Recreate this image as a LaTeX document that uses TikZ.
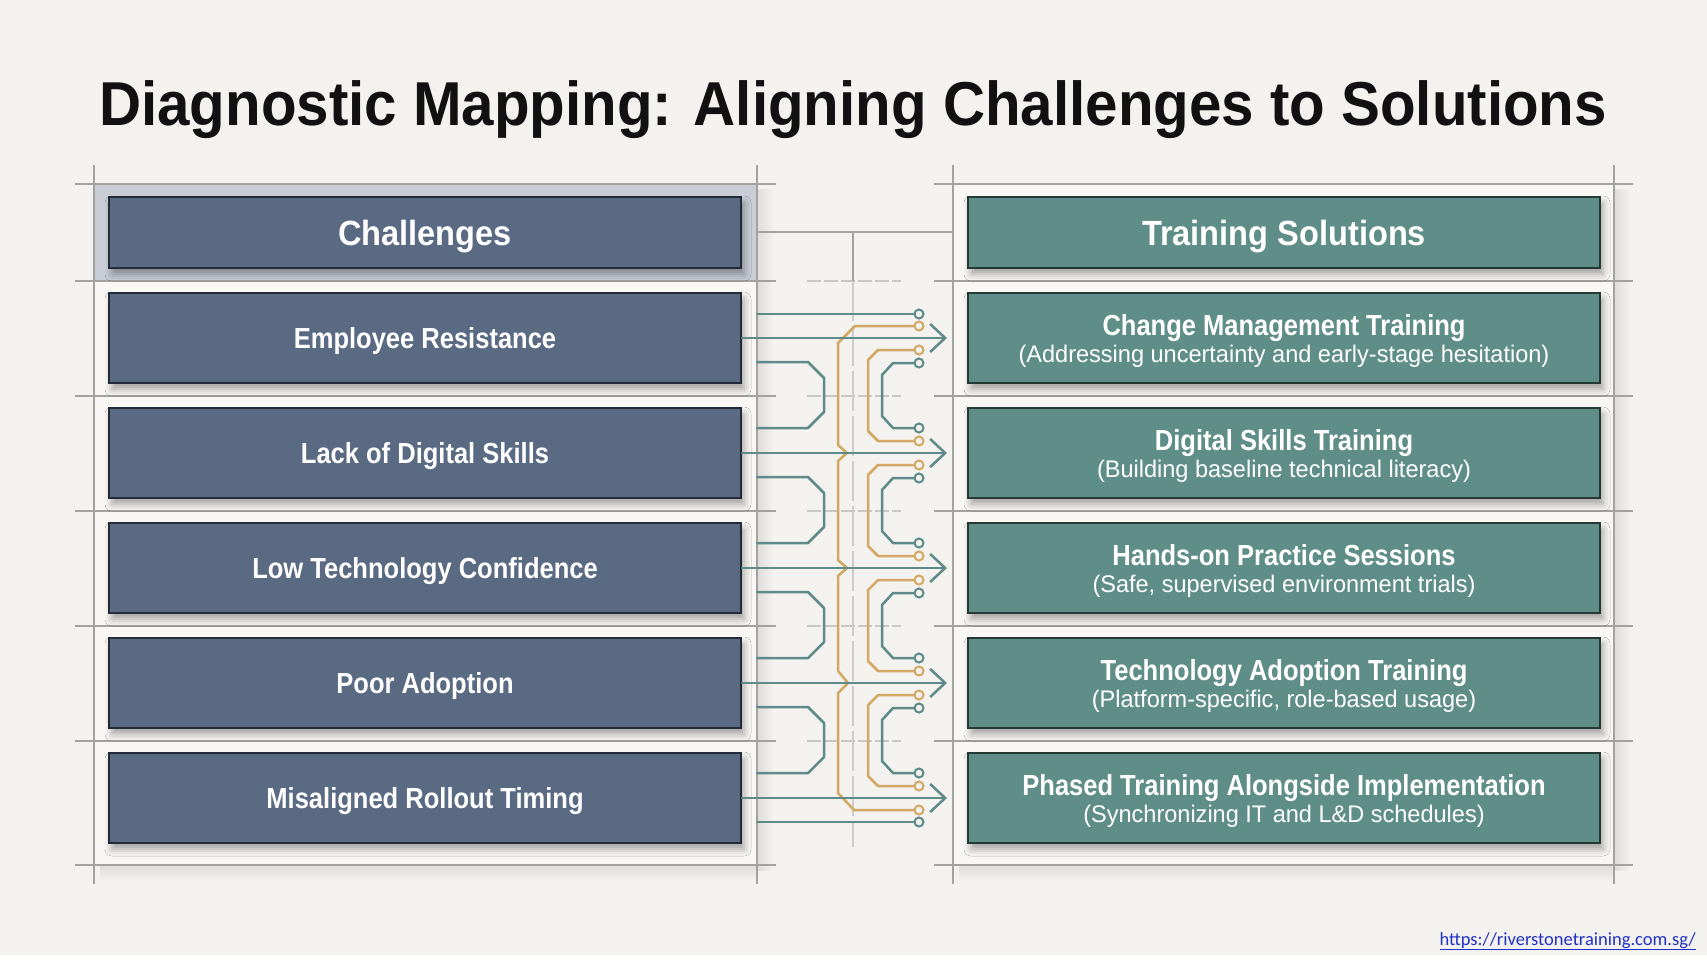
\documentclass[tikz,border=0pt]{standalone}
\usepackage{fontspec}
\setmainfont{Liberation Sans}
\newfontfamily\urlfont{Carlito}
\usetikzlibrary{arrows.meta,shadows.blur,calc}
\definecolor{bg}{HTML}{F3F2EE}
\definecolor{panelc}{HTML}{F8F7F4}
\definecolor{slate}{HTML}{5A6A83}
\definecolor{slateedge}{HTML}{232B38}
\definecolor{tealbox}{HTML}{5F8E89}
\definecolor{tealedge}{HTML}{263836}
\definecolor{trace}{HTML}{5E8A88}
\definecolor{gold}{HTML}{D3A864}
\definecolor{gridc}{HTML}{A3A29E}
\definecolor{hdrframe}{HTML}{C8CDD6}
\definecolor{urlblue}{HTML}{2030C8}
\definecolor{titlec}{HTML}{111111}
\colorlet{shadowc}{black!9!bg}
\newcommand{\sq}[2]{\scalebox{#1}[1]{#2}}
\begin{document}
\begin{tikzpicture}[x=1pt,y=-1pt,
  lbox/.style={draw=slateedge, fill=slate, line width=2pt, minimum width=632pt, minimum height=90pt, inner sep=0pt,
    blur shadow={shadow xshift=3pt,shadow yshift=-6pt,shadow blur radius=7pt,shadow opacity=35}},
  rbox/.style={lbox, draw=tealedge, fill=tealbox},
  hdrbox/.style={minimum height=71pt},
  txt/.style={text=white, anchor=base, inner sep=0pt},
  gridl/.style={draw=gridc, line width=1.5pt},
  tr/.style={draw=trace, line width=2.5pt, line join=round, line cap=round},
  go/.style={draw=gold, line width=2.5pt, line join=round, line cap=round},
  tdot/.style={circle, draw=trace, line width=2pt, fill=bg, minimum size=9pt, inner sep=0pt},
  gdot/.style={circle, draw=gold, line width=2pt, fill=bg, minimum size=9pt, inner sep=0pt},
  rowtitle/.style={txt, font=\fontsize{29}{29}\selectfont\bfseries},
  rowsub/.style={txt, font=\fontsize{24}{24}\selectfont},
  hdrtext/.style={txt, font=\fontsize{35}{35}\selectfont\bfseries},
]
\useasboundingbox (0,0) rectangle (1707,960);
\fill[bg] (0,0) rectangle (1707,960);
\fill[white] (0,955) rectangle (1707,960);

% title
\node[anchor=base, inner sep=0pt, text=titlec, font=\fontsize{62}{62}\selectfont\bfseries] (title) at (853,126)
  {\sq{0.94}{Diagnostic Mapping: Aligning Challenges to Solutions}};

% column panels with soft edge shadows
\foreach \xa/\xb in {94/757, 953/1614} {
  \shade[left color=shadowc, right color=bg] (\xb,190) rectangle (\xb+16,870);
  \shade[top color=shadowc, bottom color=bg] (\xa+6,865) rectangle (\xb,881);
  \fill[panelc] (\xa,184) rectangle (\xb,865);
}
\fill[hdrframe] (94,184) rectangle (757,281);

% grid
\foreach \x in {94,757,953,1614} \draw[gridl] (\x,165) -- (\x,884);
\foreach \y in {184,281,396,511,626,741,865} {
  \draw[gridl] (75,\y) -- (776,\y);
  \draw[gridl] (934,\y) -- (1633,\y);
}
\foreach \y in {281,396,511,626,741}
  \draw[draw=gridc!60, line width=1.2pt, dash pattern=on 14pt off 3pt] (807,\y) -- (901,\y);
\draw[gridl] (757,232) -- (953,232);
\draw[gridl] (853,232) -- (853,281);
\draw[draw=gridc!55, line width=1.3pt, dash pattern=on 40pt off 5pt] (853,281) -- (853,847);

% headers
\node[lbox, hdrbox] (chh) at (425,232.5) {};
\node[rbox, hdrbox] (shh) at (1284,232.5) {};
\node[hdrtext] (chht) at (425,245.5) {\sq{0.93}{Challenges}};
\node[hdrtext] (shht) at (1284,245.5) {\sq{0.93}{Training Solutions}};

% rows
\foreach \i/\y/\ct/\st/\ss in {
  1/338/{Employee Resistance}/{Change Management Training}/{(Addressing uncertainty and early-stage hesitation)},
  2/453/{Lack of Digital Skills}/{Digital Skills Training}/{(Building baseline technical literacy)},
  3/568/{Low Technology Confidence}/{Hands-on Practice Sessions}/{(Safe, supervised environment trials)},
  4/683/{Poor Adoption}/{Technology Adoption Training}/{(Platform-specific, role-based usage)},
  5/798/{Misaligned Rollout Timing}/{Phased Training Alongside Implementation}/{(Synchronizing IT and L\&D schedules)}} {
  \node[lbox] (c\i) at (425,\y) {};
  \node[rbox] (s\i) at (1284,\y) {};
  \node[rowtitle] (ct\i) at (425,\y+10.5) {\sq{0.88}{\ct}};
  \node[rowtitle] (st\i) at (1284,\y-3) {\sq{0.88}{\st}};
  \node[rowsub] (ss\i) at (1284,\y+24.5) {\sq{0.98}{\ss}};
}

% circuit traces: left brackets and right C-shapes
\foreach \k/\a/\b in {1/338/453, 2/453/568, 3/568/683, 4/683/798} {
  \draw[tr] (757,\a+24) -- (808,\a+24) -- (824,\a+40) -- (824,\b-41) -- (808,\b-25) -- (757,\b-25);
  \node[gdot] (ga\k) at (919,\a+12) {};
  \node[gdot] (gb\k) at (919,\b-12) {};
  \draw[go] (ga\k) -- (878,\a+12) -- (868,\a+22) -- (868,\b-22) -- (878,\b-12) -- (gb\k);
  \node[tdot] (ta\k) at (919,\a+25) {};
  \node[tdot] (tb\k) at (919,\b-25) {};
  \draw[tr] (ta\k) -- (893,\a+25) -- (882,\a+37) -- (882,\b-37) -- (893,\b-25) -- (tb\k);
}

% long gold trace
\node[gdot] (gtop) at (919,326) {};
\node[gdot] (gbot) at (919,810) {};
\draw[go] (gtop) -- (855,326) -- (838,343) -- (838,445) -- (847,453) -- (838,461)
  -- (838,560) -- (847,568) -- (838,576) -- (838,671) -- (848,683) -- (838,693)
  -- (838,793) -- (854,810) -- (gbot);

% straight teal traces
\node[tdot] (ttop) at (919,314) {};
\node[tdot] (tbot) at (919,822) {};
\draw[tr] (757,314) -- (ttop);
\draw[tr] (757,822) -- (tbot);

% arrows
\foreach \i in {1,...,5}
  \draw[tr, -{Straight Barb[length=15pt,width=28pt]}, shorten >=20pt] (c\i.east) -- (s\i.west);

% url
\node[anchor=base east, inner sep=0pt, text=urlblue, font=\urlfont\fontsize{18.5}{18.5}\selectfont] (url) at (1696,945)
  {\underline{https://riverstonetraining.com.sg/}};
\end{tikzpicture}
\end{document}
